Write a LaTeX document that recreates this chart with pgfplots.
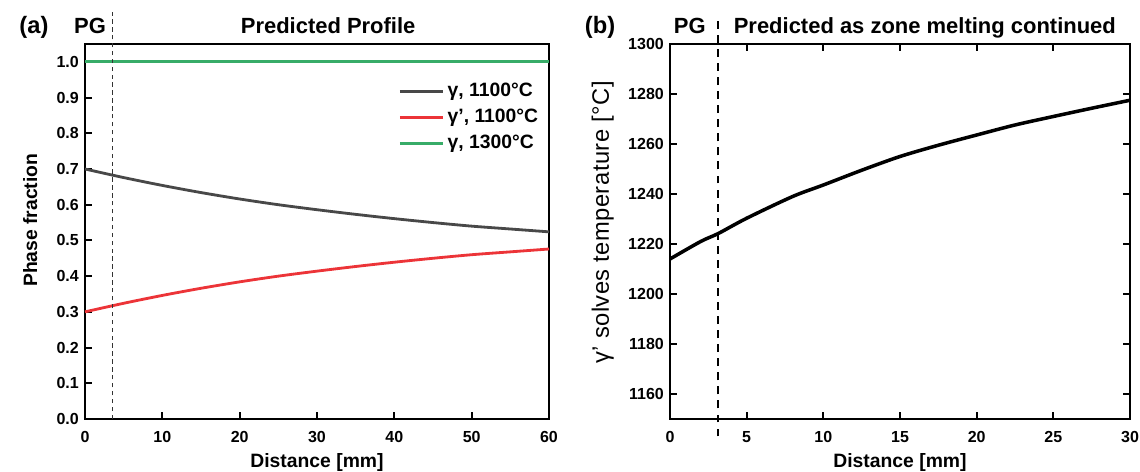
\documentclass[border=0pt]{standalone}
\usepackage{fontspec}
\setmainfont{Liberation Sans}
\usepackage{pgfplots}
\pgfplotsset{compat=1.18}
\definecolor{gline}{RGB}{72,72,72}
\definecolor{rline}{RGB}{236,52,56}
\definecolor{grline}{RGB}{56,172,104}

\pgfplotsset{
  panel/.style={
    scale only axis, anchor=south west, clip=false,
    axis line style={line width=1.1pt},
    tick style={line width=1.1pt, black},
    major tick length=0.14cm, tick align=inside,
    /pgf/number format/assume math mode=true,
    ticklabel style={font=\fontsize{9.1}{10}\selectfont\bfseries},
    xticklabel style={yshift=-0.12cm},
    label style={font=\fontsize{11}{13}\selectfont\bfseries},
  },
}

\begin{document}
\begin{tikzpicture}
\useasboundingbox (0,0) rectangle (22.8cm,9.44cm);

% (a) phase fractions
\begin{axis}[panel, at={(1.7cm,1.06cm)}, width=9.28cm, height=7.5cm,
  xmin=0, xmax=60, ymin=0, ymax=1.05,
  xtick={0,10,20,30,40,50,60},
  ytick={0,0.1,0.2,0.3,0.4,0.5,0.6,0.7,0.8,0.9,1.0},
  yticklabel style={/pgf/number format/.cd, fixed, fixed zerofill, precision=1},
  tick pos=left,
  xlabel={Distance [mm]}, ylabel={Phase fraction},
  xlabel style={at={(axis description cs:0.5,-0.115)}, anchor=center},
  ylabel style={at={(axis description cs:-0.118,0.53)}, anchor=center},
  legend style={draw=none, fill=none, at={(rel axis cs:0.985,0.905)}, anchor=north east,
    font=\fontsize{11}{13}\selectfont\bfseries, row sep=1.5pt, inner sep=0pt},
  legend cell align=left,
  legend image code/.code={\draw[#1] (0cm,0cm) -- (0.86cm,0cm);},
]
\addplot[gline, line width=1.6pt, smooth] coordinates {
  (0,0.700) (5,0.676) (10,0.654) (15,0.634) (20,0.616) (25,0.600) (30,0.586)
  (35,0.573) (40,0.561) (45,0.550) (50,0.540) (55,0.532) (60,0.524)};
\addlegendentry{γ, 1100°C}
\addplot[rline, line width=1.6pt, smooth] coordinates {
  (0,0.300) (5,0.324) (10,0.346) (15,0.366) (20,0.384) (25,0.400) (30,0.414)
  (35,0.427) (40,0.439) (45,0.450) (50,0.460) (55,0.468) (60,0.476)};
\addlegendentry{γ', 1100°C}
\addplot[grline, line width=1.6pt] coordinates {(0,1.0) (60,1.0)};
\addlegendentry{γ, 1300°C}
\addplot[black!80, line width=0.6pt, dash pattern=on 2.5pt off 2pt, forget plot]
  coordinates {(3.6,0) (3.6,1.14)};
\node[font=\fontsize{13.5}{15}\selectfont\bfseries, anchor=base] at (rel axis cs:-0.11,1.027) {(a)};
\node[font=\fontsize{12.5}{14}\selectfont\bfseries, anchor=base] at (rel axis cs:0.011,1.027) {PG};
\node[font=\fontsize{12.5}{14}\selectfont\bfseries, anchor=base] at (rel axis cs:0.524,1.027) {Predicted Profile};
\end{axis}

% (b) solvus temperature
\begin{axis}[panel, at={(13.4cm,1.06cm)}, width=9.2cm, height=7.5cm,
  xmin=0, xmax=30, ymin=1150, ymax=1300,
  xtick={0,5,10,15,20,25,30},
  ytick={1160,1180,1200,1220,1240,1260,1280,1300},
  yticklabel style={/pgf/number format/1000 sep={}},
  xlabel={Distance [mm]}, ylabel={γ' solves temperature [°C]},
  xlabel style={at={(axis description cs:0.5,-0.115)}, anchor=center},
  ylabel style={at={(axis description cs:-0.146,0.524)}, anchor=center,
    font=\fontsize{13.5}{15}\selectfont\addfontfeature{LetterSpace=2}},
]
\addplot[black, line width=2pt, smooth] coordinates {
  (0,1214.0) (2,1221.0) (3.15,1224.2) (5,1230.3) (8,1239.0) (10,1243.6)
  (12.5,1249.5) (15,1255.0) (17.5,1259.5) (20,1263.6) (22.5,1267.6)
  (25,1271.0) (27.5,1274.3) (30,1277.5)};
\addplot[black, line width=1.1pt, dash pattern=on 4.5pt off 3.5pt]
  coordinates {(3.1,1143) (3.1,1311)};
\node[font=\fontsize{13.5}{15}\selectfont\bfseries, anchor=base] at (rel axis cs:-0.152,1.027) {(b)};
\node[font=\fontsize{12.5}{14}\selectfont\bfseries, anchor=base] at (rel axis cs:0.043,1.027) {PG};
\node[font=\fontsize{12.5}{14}\selectfont\bfseries, anchor=base] at (rel axis cs:0.554,1.027) {Predicted as zone melting continued};
\end{axis}
\end{tikzpicture}
\end{document}
